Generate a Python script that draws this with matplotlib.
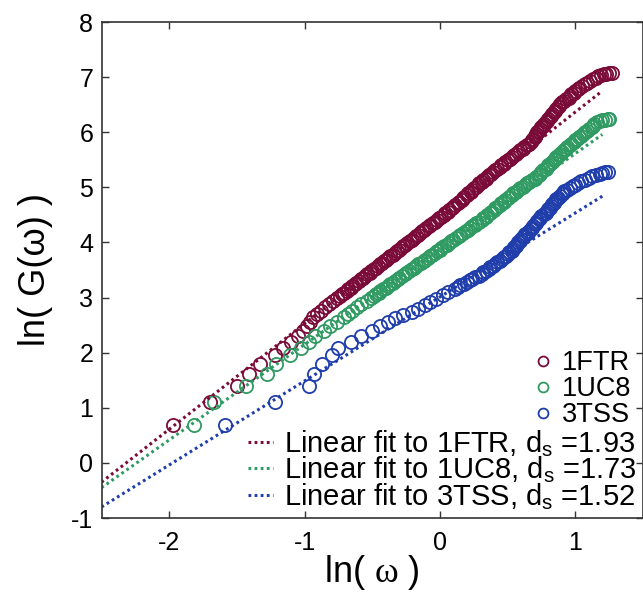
import numpy as np
import matplotlib.pyplot as plt

plt.rcParams['font.family'] = ['Liberation Sans', 'DejaVu Sans']
plt.rcParams['mathtext.fontset'] = 'custom'
plt.rcParams['mathtext.rm'] = 'Liberation Serif'
plt.rcParams['mathtext.sf'] = 'Liberation Sans'
plt.rcParams['mathtext.it'] = 'Liberation Sans:italic'
plt.rcParams['axes.unicode_minus'] = False

# ---- data: ln(omega) vs ln(G(omega)) ----
# 1FTR
ftr_x = [-1.97, -1.70, -1.50, -1.41, -1.33, -1.22, -1.16, -1.10, -1.05, -1.01, -0.98, -0.96,
         -0.94, -0.91, -0.88, -0.85, -0.82, -0.79,
         -0.76, -0.74, -0.72, -0.71, -0.69, -0.68, -0.66, -0.65, -0.63, -0.62,
         -0.60, -0.58, -0.57, -0.55, -0.54, -0.52, -0.51, -0.49, -0.47, -0.46,
         -0.44, -0.43, -0.41, -0.40, -0.38, -0.37, -0.35, -0.33, -0.32, -0.30,
         -0.29, -0.27, -0.26, -0.24, -0.22, -0.21, -0.19, -0.18, -0.16, -0.15,
         -0.13, -0.12, -0.10, -0.08, -0.07, -0.05, -0.04, -0.02, -0.01, 0.01,
         0.03, 0.04, 0.06, 0.07, 0.09, 0.10, 0.11, 0.13, 0.14, 0.16,
         0.17, 0.18, 0.20, 0.21, 0.23, 0.24, 0.25, 0.27, 0.28, 0.29,
         0.31, 0.32, 0.34, 0.35, 0.36, 0.38, 0.39, 0.41, 0.42, 0.44,
         0.45, 0.47, 0.48, 0.50, 0.52, 0.53, 0.55, 0.56, 0.58, 0.59,
         0.61, 0.62, 0.64, 0.66, 0.67, 0.68, 0.69, 0.70, 0.70, 0.71,
         0.72, 0.73, 0.74, 0.75, 0.76, 0.77, 0.78, 0.79, 0.80, 0.81,
         0.82, 0.83, 0.84, 0.85, 0.86, 0.87, 0.88, 0.89, 0.90, 0.92,
         0.93, 0.95, 0.96, 0.97, 0.99, 1.00, 1.02, 1.03, 1.05, 1.07,
         1.09, 1.11, 1.13, 1.15, 1.17, 1.19, 1.21, 1.23, 1.25, 1.27]
ftr_y = [0.69, 1.10, 1.39, 1.61, 1.79, 1.95, 2.08, 2.20, 2.30, 2.40, 2.48, 2.56,
         2.64, 2.70, 2.76, 2.82, 2.88, 2.94,
         3.00, 3.03, 3.06, 3.09, 3.12, 3.15, 3.18, 3.21, 3.24, 3.27,
         3.30, 3.33, 3.36, 3.39, 3.42, 3.45, 3.48, 3.51, 3.54, 3.57,
         3.60, 3.63, 3.66, 3.69, 3.72, 3.75, 3.78, 3.81, 3.84, 3.87,
         3.90, 3.93, 3.96, 3.99, 4.02, 4.05, 4.08, 4.11, 4.14, 4.17,
         4.20, 4.23, 4.26, 4.29, 4.32, 4.35, 4.38, 4.41, 4.44, 4.47,
         4.50, 4.53, 4.56, 4.59, 4.62, 4.65, 4.68, 4.71, 4.74, 4.77,
         4.80, 4.83, 4.86, 4.89, 4.92, 4.95, 4.98, 5.01, 5.04, 5.07,
         5.10, 5.13, 5.16, 5.19, 5.22, 5.25, 5.28, 5.31, 5.34, 5.37,
         5.40, 5.43, 5.46, 5.49, 5.52, 5.55, 5.58, 5.61, 5.64, 5.67,
         5.70, 5.73, 5.76, 5.79, 5.82, 5.85, 5.88, 5.91, 5.94, 5.97,
         6.00, 6.03, 6.06, 6.09, 6.12, 6.15, 6.18, 6.21, 6.24, 6.27,
         6.30, 6.33, 6.36, 6.39, 6.42, 6.45, 6.48, 6.51, 6.54, 6.57,
         6.60, 6.63, 6.66, 6.69, 6.72, 6.75, 6.78, 6.81, 6.84, 6.87,
         6.90, 6.93, 6.96, 6.99, 7.02, 7.04, 7.05, 7.06, 7.07, 7.07]

# 1UC8
uc8_x = [-1.82, -1.67, -1.43, -1.28, -1.21, -1.11, -1.03, -0.97, -0.92, -0.86, -0.81, -0.76,
         -0.71, -0.68, -0.65, -0.61, -0.58, -0.54,
         -0.51, -0.49, -0.47, -0.45, -0.44, -0.42, -0.40, -0.38, -0.37, -0.35,
         -0.33, -0.31, -0.30, -0.28, -0.26, -0.25, -0.23, -0.21, -0.19, -0.18,
         -0.16, -0.14, -0.12, -0.11, -0.09, -0.07, -0.06, -0.04, -0.02, 0.00,
         0.01, 0.03, 0.05, 0.07, 0.08, 0.10, 0.12, 0.14, 0.15, 0.17,
         0.19, 0.21, 0.22, 0.24, 0.26, 0.27, 0.29, 0.31, 0.32, 0.34,
         0.35, 0.37, 0.38, 0.40, 0.41, 0.42, 0.44, 0.45, 0.47, 0.48,
         0.50, 0.51, 0.53, 0.54, 0.56, 0.58, 0.59, 0.61, 0.63, 0.64,
         0.66, 0.68, 0.70, 0.71, 0.73, 0.74, 0.75, 0.76, 0.78, 0.79,
         0.80, 0.81, 0.83, 0.84, 0.85, 0.86, 0.88, 0.89, 0.90, 0.92,
         0.93, 0.94, 0.96, 0.97, 0.99, 1.00, 1.01, 1.03, 1.04, 1.06,
         1.07, 1.09, 1.10, 1.12, 1.13, 1.14, 1.16,
         1.18, 1.20, 1.22, 1.24, 1.25]
uc8_y = [0.69, 1.10, 1.39, 1.61, 1.79, 1.95, 2.08, 2.20, 2.30, 2.40, 2.48, 2.56,
         2.64, 2.70, 2.76, 2.82, 2.88, 2.94,
         3.00, 3.03, 3.06, 3.09, 3.12, 3.15, 3.18, 3.21, 3.24, 3.27,
         3.30, 3.33, 3.36, 3.39, 3.42, 3.45, 3.48, 3.51, 3.54, 3.57,
         3.60, 3.63, 3.66, 3.69, 3.72, 3.75, 3.78, 3.81, 3.84, 3.87,
         3.90, 3.93, 3.96, 3.99, 4.02, 4.05, 4.08, 4.11, 4.14, 4.17,
         4.20, 4.23, 4.26, 4.29, 4.32, 4.35, 4.38, 4.41, 4.44, 4.47,
         4.50, 4.53, 4.56, 4.59, 4.62, 4.65, 4.68, 4.71, 4.74, 4.77,
         4.80, 4.83, 4.86, 4.89, 4.92, 4.95, 4.98, 5.01, 5.04, 5.07,
         5.10, 5.13, 5.16, 5.19, 5.22, 5.25, 5.28, 5.31, 5.34, 5.37,
         5.40, 5.43, 5.46, 5.49, 5.52, 5.55, 5.58, 5.61, 5.64, 5.67,
         5.70, 5.73, 5.76, 5.79, 5.82, 5.85, 5.88, 5.91, 5.94, 5.97,
         6.00, 6.03, 6.06, 6.09, 6.12, 6.15, 6.18,
         6.20, 6.22, 6.23, 6.24, 6.24]

# 3TSS
tss_x = [-1.59, -1.22, -0.97, -0.93, -0.87, -0.80, -0.75, -0.66, -0.58, -0.50, -0.44, -0.38,
         -0.33, -0.27, -0.21, -0.16, -0.11, -0.07, -0.03, 0.02, 0.06, 0.11,
         0.13, 0.15, 0.18, 0.20, 0.22, 0.24, 0.26, 0.29, 0.31, 0.32,
         0.34, 0.36, 0.37, 0.39, 0.41, 0.42, 0.44, 0.46, 0.47, 0.49,
         0.50, 0.51, 0.53, 0.54, 0.55, 0.56, 0.57, 0.58, 0.59, 0.60,
         0.61, 0.62, 0.63, 0.65, 0.66, 0.67, 0.68, 0.69, 0.70, 0.71,
         0.72, 0.73, 0.74, 0.75, 0.77, 0.78, 0.79, 0.80, 0.81, 0.82,
         0.83, 0.84, 0.85, 0.86, 0.87, 0.89, 0.90, 0.91, 0.92, 0.94,
         0.96, 0.98, 1.00, 1.02, 1.04, 1.07, 1.10, 1.12, 1.15,
         1.18, 1.20, 1.22, 1.24]
tss_y = [0.69, 1.10, 1.39, 1.61, 1.79, 1.95, 2.08, 2.20, 2.30, 2.40, 2.48, 2.56,
         2.62, 2.68, 2.74, 2.80, 2.86, 2.92, 2.98, 3.04, 3.10, 3.16,
         3.19, 3.22, 3.25, 3.28, 3.31, 3.34, 3.37, 3.40, 3.43, 3.46,
         3.49, 3.52, 3.55, 3.58, 3.61, 3.64, 3.67, 3.70, 3.73, 3.76,
         3.79, 3.82, 3.85, 3.88, 3.91, 3.94, 3.97, 4.00, 4.03, 4.06,
         4.09, 4.12, 4.15, 4.18, 4.21, 4.24, 4.27, 4.30, 4.33, 4.36,
         4.39, 4.42, 4.45, 4.48, 4.51, 4.54, 4.57, 4.60, 4.63, 4.66,
         4.69, 4.72, 4.75, 4.78, 4.81, 4.84, 4.87, 4.90, 4.93, 4.96,
         4.99, 5.02, 5.05, 5.08, 5.11, 5.14, 5.17, 5.20, 5.23,
         5.25, 5.26, 5.27, 5.28]

# linear fits (end points)
fit_x = [-2.5, 1.2]
ftr_fit = [-0.35, 6.75]
uc8_fit = [-0.45, 5.96]
tss_fit = [-0.80, 4.84]

names = ['1FTR', '1UC8', '3TSS']
ds = ['1.93', '1.73', '1.52']
colors = ['#7a0b38', '#2f9a62', '#1f3dab']

### plot
fig = plt.figure(figsize=(6.43, 5.92), dpi=100)
ax = fig.add_axes([101.5/643, 74/592, 541.5/643, 496/592])

pts = []
for xs, ys, c, n in zip([ftr_x, uc8_x, tss_x], [ftr_y, uc8_y, tss_y], colors, names):
    p, = ax.plot(xs, ys, 'o', mfc='none', mec=c, ms=9.5, mew=1.3, label=n)
    pts.append(p)

fits = []
for fy, c, n, d in zip([ftr_fit, uc8_fit, tss_fit], colors, names, ds):
    l, = ax.plot(fit_x, fy, color=c, lw=2.2, linestyle=(0, (0.9, 1.1)),
                 label='Linear fit to %s, d$_\\mathsf{s}$ =%s' % (n, d))
    fits.append(l)

ax.set_xlim(-2.5, 1.5)
ax.set_ylim(-1, 8)
ax.set_xticks([-2, -1, 0, 1])
ax.set_yticks(range(-1, 9))

for axis in ['top', 'bottom', 'left', 'right']:
    ax.spines[axis].set_linewidth(1.2)
    ax.spines[axis].set_color('#333333')

ax.tick_params(direction='in', top=True, right=True, length=5, width=1,
               color='#333333', labelsize=18)
ax.tick_params(axis='x', pad=9)
ax.tick_params(axis='y', pad=6)

ax.set_xlabel(r'ln( $\mathrm{\omega}$ )', fontsize=26)
ax.xaxis.set_label_coords(0.5, -0.071)
ax.set_ylabel('ln( G(ω) )', fontsize=26, labelpad=13)

leg1 = ax.legend(handles=pts, loc='upper right', frameon=False,
                 bbox_to_anchor=(631/643, 1 - 350/592), bbox_transform=fig.transFigure,
                 fontsize=19.5, borderpad=0, borderaxespad=0, labelspacing=0.0,
                 handlelength=0.5, handletextpad=0.42, markerscale=0.75)
ax.add_artist(leg1)
ax.legend(handles=fits, loc='upper right', frameon=False,
          bbox_to_anchor=(637/643, 1 - 428/592), bbox_transform=fig.transFigure,
          fontsize=21, borderpad=0, borderaxespad=0, labelspacing=-0.15,
          handlelength=0.85, handletextpad=0.4)

fig.savefig('out.png', dpi=100)
